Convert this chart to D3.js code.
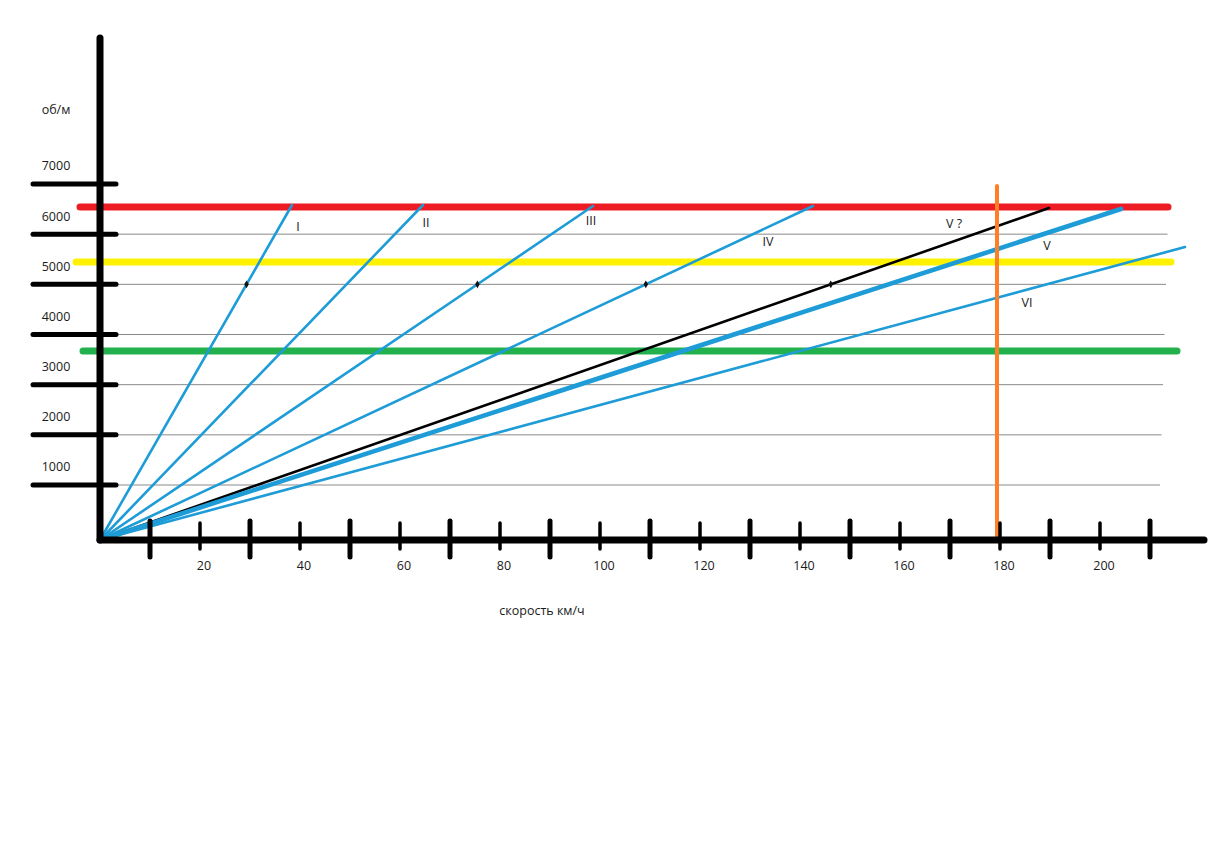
<!DOCTYPE html>
<html><head><meta charset="utf-8">
<script src="https://cdn.jsdelivr.net/npm/d3@7"></script>
<style>body{margin:0;background:#fff}text{font-family:"Open Sans",Arial,sans-serif;font-size:12.5px;fill:#1a1a1a}</style>
</head><body><svg id="c" width="1209" height="864"></svg>
<script>
// ---- data ----
const speedTicks = [10,20,30,40,50,60,70,80,90,100,110,120,130,140,150,160,170,180,190,200,210];
const speedLabels = [20,40,60,80,100,120,140,160,180,200];
const rpmTicks = [1000,2000,3000,4000,5000,6000,7000];
const gearNames = ["I","II","III","IV","V ?","V","VI"];
const gearEndSpeed = [38.4, 64.6, 98.6, 142.6, 189.8, 204.2, 217];
const gearEndRpm = [6581, 6581, 6561, 6561, 6522, 6502, 5744];
const gearLabelSpeed = [39.6, 65.2, 98.2, 133.6, 170.8, 189.4, 185.4];
const gearLabelRpm = [6123, 6203, 6243, 5824, 6183, 5744, 4608];
const gearColor = ["#1e9cd7","#1e9cd7","#1e9cd7","#1e9cd7","#000000","#1e9cd7","#1e9cd7"];
const gearWidth = [2.6,2.6,2.6,2.6,2.6,4.6,2.6];
const markRpm = 5000;
const markGears = [0,2,3,4];
const limitRpm = [6541, 5445, 3671];
const limitColor = ["#ed1c24","#fff200","#22b14c"];
const limitFrom = [-4, -4.8, -3.4];
const limitTo = [213.6, 214.2, 215.4];
const markSpeed = 179.4;
const yTitle = "об/м";
const xTitle = "скорость км/ч";

// ---- scales ----
const svg = d3.select("#c");
const x = d3.scaleLinear().domain([0,200]).range([100,1100]);
const y = d3.scaleLinear().domain([0,1000,7000]).range([540,485,184]);

// grid
svg.append("g").selectAll("line").data(rpmTicks.slice(0,6)).join("line")
  .attr("x1", x(3.4)).attr("x2", (d,i)=>x(212+i*0.3)).attr("y1", d=>y(d)).attr("y2", d=>y(d))
  .attr("stroke","#8a8a8a").attr("stroke-width",1);

// limit lines
svg.append("g").selectAll("line").data(limitRpm).join("line")
  .attr("x1",(d,i)=>x(limitFrom[i])).attr("x2",(d,i)=>x(limitTo[i]))
  .attr("y1",d=>y(d)).attr("y2",d=>y(d))
  .attr("stroke",(d,i)=>limitColor[i]).attr("stroke-width",7).attr("stroke-linecap","round");

// gear lines
svg.append("g").selectAll("line").data(gearNames).join("line")
  .attr("x1",x(0)).attr("y1",y(0))
  .attr("x2",(d,i)=>x(gearEndSpeed[i])).attr("y2",(d,i)=>y(gearEndRpm[i]))
  .attr("stroke",(d,i)=>gearColor[i]).attr("stroke-width",(d,i)=>gearWidth[i]).attr("stroke-linecap","round");

// small markers where lines cross 5000
svg.append("g").selectAll("path").data(markGears).join("path")
  .attr("d", d3.symbol(d3.symbolDiamond, 18))
  .attr("transform", g => {
    const t = (y(0)-y(markRpm))/(y(0)-y(gearEndRpm[g]));
    const px = x(0) + t*(x(gearEndSpeed[g])-x(0));
    return `translate(${px},${y(markRpm)})`;
  }).attr("fill","#111");

// orange vertical
svg.append("line").attr("x1",x(markSpeed)).attr("x2",x(markSpeed)).attr("y1",y(0)).attr("y2",y(6960))
  .attr("stroke","#ff7f27").attr("stroke-width",4).attr("stroke-linecap","round");

// axes
svg.append("line").attr("x1",x(0)).attr("x2",x(0)).attr("y1",y(0)).attr("y2",38)
  .attr("stroke","#000").attr("stroke-width",7).attr("stroke-linecap","round");
svg.append("line").attr("x1",x(0)).attr("x2",x(220.8)).attr("y1",y(0)).attr("y2",y(0))
  .attr("stroke","#000").attr("stroke-width",7).attr("stroke-linecap","round");

// y ticks
svg.append("g").selectAll("line").data(rpmTicks).join("line")
  .attr("x1",x(-13.4)).attr("x2",x(3.2)).attr("y1",d=>y(d)).attr("y2",d=>y(d))
  .attr("stroke","#000").attr("stroke-width",5).attr("stroke-linecap","round");
svg.append("g").selectAll("text").data(rpmTicks).join("text")
  .attr("x",x(-8.8)).attr("y",d=>y(d)-17).attr("text-anchor","middle").attr("dominant-baseline","middle")
  .text(d=>d);
svg.append("text").attr("x",x(-8.8)).attr("y",111).attr("text-anchor","middle").attr("dominant-baseline","middle").text(yTitle);

// x ticks
svg.append("g").selectAll("line").data(speedTicks).join("line")
  .attr("x1",d=>x(d)).attr("x2",d=>x(d))
  .attr("y1",d=>(d/10)%2===1?521:523).attr("y2",d=>(d/10)%2===1?557:549)
  .attr("stroke","#000").attr("stroke-width",d=>(d/10)%2===1?5:3.5).attr("stroke-linecap","round");
svg.append("g").selectAll("text").data(speedLabels).join("text")
  .attr("x",d=>x(d)+4).attr("y",567).attr("text-anchor","middle").attr("dominant-baseline","middle")
  .text(d=>d);
svg.append("text").attr("x",542).attr("y",612).attr("text-anchor","middle").attr("dominant-baseline","middle").text(xTitle);

// gear labels
svg.append("g").selectAll("text").data(gearNames).join("text")
  .attr("x",(d,i)=>x(gearLabelSpeed[i])).attr("y",(d,i)=>y(gearLabelRpm[i]))
  .attr("text-anchor","middle").attr("dominant-baseline","middle").text(d=>d);
</script></body></html>
